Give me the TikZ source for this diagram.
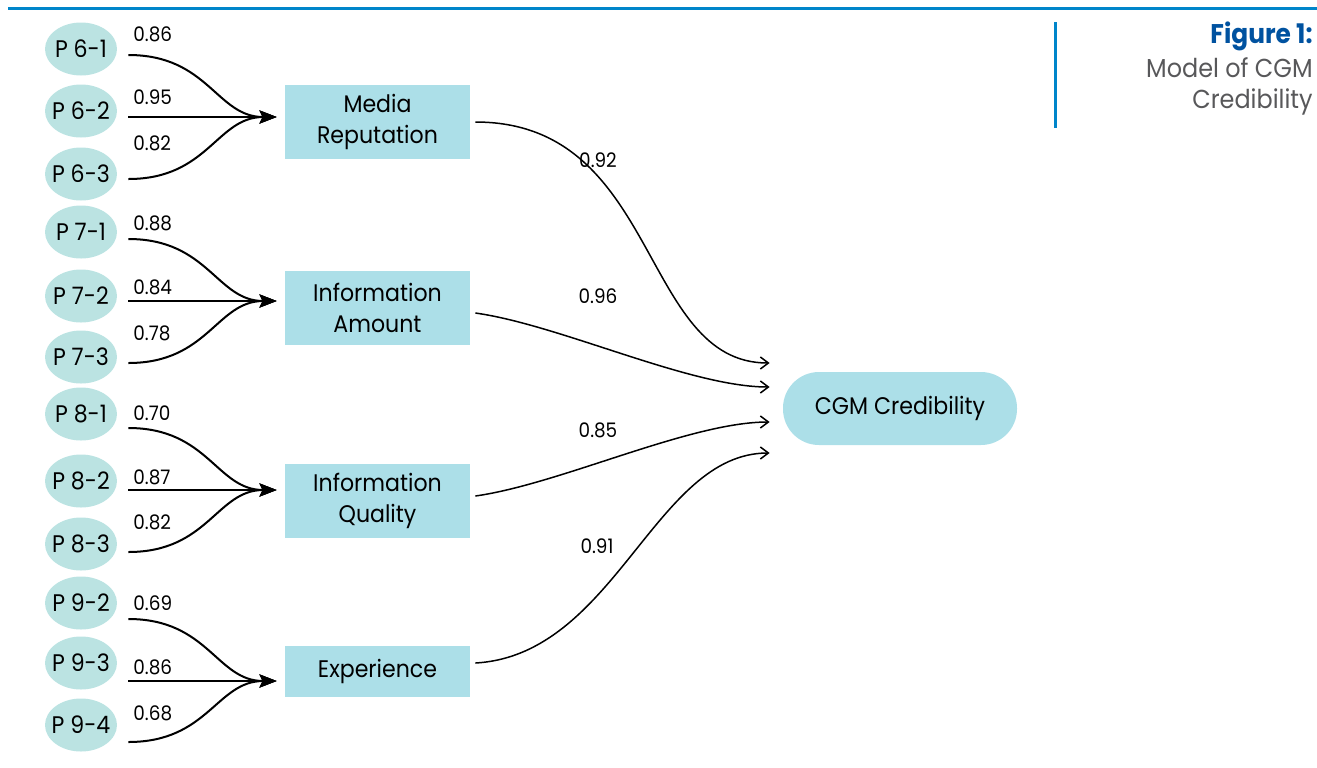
\documentclass[tikz,border=0pt]{standalone}
\usepackage{fontspec}
\setmainfont{Poppins}[FakeStretch=0.92]
\usetikzlibrary{shapes.geometric,arrows.meta,calc}

\definecolor{ruleblue}{RGB}{0,133,202}
\definecolor{figblue}{RGB}{0,82,160}
\definecolor{capgray}{RGB}{88,88,90}
\definecolor{itemfill}{RGB}{187,227,226}
\definecolor{boxfill}{RGB}{172,223,232}

\tikzset{
  item/.style={ellipse,fill=itemfill,minimum width=36pt,minimum height=26.5pt,inner xsep=-3pt,inner ysep=0pt,
    font=\fontsize{12}{14}\selectfont},
  factor/.style={fill=boxfill,minimum width=92.5pt,minimum height=37pt,inner sep=0pt,align=center,
    font=\fontsize{12}{15.5}\selectfont},
  goal/.style={fill=boxfill,rounded corners=18pt,minimum width=117pt,minimum height=36.5pt,inner sep=0pt,
    font=\fontsize{12}{14}\selectfont},
  wt/.style={inner sep=0pt,font=\fontsize{10}{12}\selectfont},
  feed/.style={line width=1pt,-{Stealth[length=8.5pt,width=6.5pt,inset=1.5pt]}},
  load/.style={line width=0.75pt,-{Straight Barb[length=4pt,width=6pt]}},
  rule line/.style={draw=ruleblue,line width=1.5pt}
}

\begin{document}
\begin{tikzpicture}[x=0.5pt,y=0.5pt]
  \useasboundingbox (0,0) rectangle (1317,-767);

  % header rule and caption
  \draw[rule line] (8,-8) -- (1317,-8);
  \draw[rule line] (1055,-22) -- (1055,-128);
  \node[anchor=base east,inner sep=0pt,font=\fontsize{13.5}{15}\selectfont\bfseries,text=figblue] (fig) at (1313,-43) {Figure 1:};
  \node[anchor=base east,inner sep=0pt,font=\fontsize{13}{15}\selectfont,text=capgray] (cap1) at (1313,-77) {Model of CGM};
  \node[anchor=base east,inner sep=0pt,font=\fontsize{13}{15}\selectfont,text=capgray] (cap2) at (1313,-108) {Credibility};

  % indicators
  \foreach \n/\t/\y in {p61/P 6-1/49,p62/P 6-2/111,p63/P 6-3/174,
                        p71/P 7-1/232,p72/P 7-2/296,p73/P 7-3/357,
                        p81/P 8-1/414,p82/P 8-2/481,p83/P 8-3/544,
                        p92/P 9-2/603,p93/P 9-3/663,p94/P 9-4/725}
    \node[item] (\n) at (81,-\y) {\t};

  % factors
  \node[factor] (mr) at (377.5,-122) {Media\\Reputation};
  \node[factor] (ia) at (377.5,-307.5) {Information\\Amount};
  \node[factor] (iq) at (377.5,-500.5) {Information\\Quality};
  \node[factor,minimum height=25.5pt] (ex) at (377.5,-671.5) {Experience};

  \node[goal] (cgm) at (900,-408.5) {CGM Credibility};

  \coordinate (in-mr) at ($(mr.west)+(-8,5)$);
  \coordinate (in-ia) at ($(ia.west)+(-8,6.5)$);
  \coordinate (in-iq) at ($(iq.west)+(-8,10.5)$);
  \coordinate (in-ex) at ($(ex.west)+(-8,-9.5)$);

  \foreach \s/\d/\t in {p61/6/mr,p62/6/mr,p63/5/mr,
                        p71/7/ia,p72/5/ia,p73/6/ia,
                        p81/14/iq,p82/9/iq,p83/8/iq,
                        p92/16/ex,p93/18/ex,p94/17/ex}
    \draw[feed] ($(\s.east)+(11,-\d)$) .. controls +(80,0) and +(-60,0) .. (in-\t);

  \foreach \v/\y in {0.86/34,0.95/97,0.82/143,0.88/223,0.84/287,0.78/333,
                     0.70/413,0.87/477,0.82/522,0.69/603,0.86/667,0.68/713}
    \node[wt,anchor=west] (w-\y) at (133,-\y) {\v};

  % paths to credibility
  \draw[load] ($(mr.east)+(5,0)$) .. controls +(185,0) and +(-130,0) .. ($(cgm.west)+(-13,45.5)$);
  \draw[load] ($(ia.east)+(5,-5.5)$) .. controls +(85,-12) and +(-80,0) .. ($(cgm.west)+(-13,21.5)$);
  \draw[load] ($(iq.east)+(5,4.5)$) .. controls +(85,12) and +(-80,0) .. ($(cgm.west)+(-13,-13.5)$);
  \draw[load] ($(ex.east)+(5,8.5)$) .. controls +(140,8) and +(-115,0) .. ($(cgm.west)+(-13,-44.5)$);

  \node[wt] (w-mr) at (598,-160) {0.92};
  \node[wt] (w-ia) at (598,-296) {0.96};
  \node[wt] (w-iq) at (598,-430) {0.85};
  \node[wt] (w-ex) at (597,-546) {0.91};
\end{tikzpicture}
\end{document}
